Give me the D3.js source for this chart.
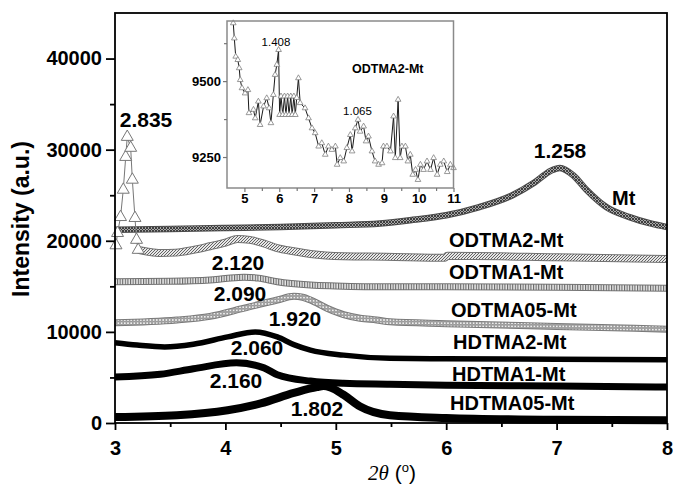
<!DOCTYPE html>
<html><head><meta charset="utf-8">
<script src="https://cdn.jsdelivr.net/npm/d3@7"></script>
<style>
body{margin:0;background:#fff;}
svg{display:block;}
text{font-family:"Liberation Sans",Arial,sans-serif;}
</style></head>
<body>
<svg id="c" width="673" height="486"></svg>
<script>
// ---------- data ----------
const xTicks = [3,4,5,6,7,8];
const yTicks = [0,10000,20000,30000,40000];
const insetXTicks = [5,6,7,8,9,10,11];
const insetYTicks = [9250,9500];

const mtX = [3.0,3.5,4.0,4.5,5.0,5.4,5.7,6.0,6.3,6.6,6.8,6.95,7.03,7.15,7.27,7.45,7.66,7.85,8.0];
const mtY = [21200,21300,21400,21500,21700,21900,22300,22800,23700,25000,26400,27700,28000,27200,25600,23700,22600,21900,21500];

const od2PeakX = [3.009,3.023,3.050,3.075,3.097,3.111,3.142,3.157,3.181,3.195,3.21];
const od2PeakY = [19500,20850,22600,25600,29200,31400,30200,26700,22500,20100,19000];
const od2X = [3.21,3.3,3.41,3.55,3.71,3.86,4.0,4.11,4.22,4.35,4.47,4.62,4.77,5.07,5.45,5.99,6.01,7.0,8.0];
const od2Y = [19000,18800,18650,18700,19000,19400,19800,20200,20100,19700,19200,18850,18550,18300,18250,18150,18350,18200,18000];

const od1X = [3.0,3.5,3.86,4.0,4.17,4.3,4.47,4.77,5.0,5.49,6.0,7.0,8.0];
const od1Y = [15500,15550,15700,15850,16000,15900,15500,15150,15050,14950,14950,14900,14800];

const od05X = [3.0,3.56,3.86,4.17,4.47,4.62,4.70,4.77,4.92,5.07,5.22,5.37,5.49,6.0,7.0,8.0];
const od05Y = [11000,11300,11700,12600,13500,13900,13800,13500,12600,11900,11500,11300,11100,10900,10600,10300];

const hd2X = [3.0,3.2,3.45,3.71,4.02,4.27,4.47,4.62,4.77,5.07,5.49,6.0,7.0,8.0];
const hd2Y = [8800,8550,8350,8650,9450,10000,9450,8600,8000,7450,7100,7050,7000,6950];

const hd1X = [3.0,3.41,3.71,4.1,4.35,4.47,4.77,5.07,5.49,6.0,7.0,8.0];
const hd1Y = [5050,5350,5950,6600,6050,5300,4600,4350,4250,4150,4050,3950];

const hd05X = [3.0,3.56,4.02,4.32,4.62,4.83,4.89,4.95,5.07,5.22,5.49,6.0,7.0,8.0];
const hd05Y = [650,850,1400,2150,3300,3950,4050,3900,3100,1800,850,550,350,300];

const insetX = [4.68,4.71,4.75,4.81,4.85,4.88,4.93,5.02,5.10,5.13,5.26,5.31,5.40,5.45,5.55,5.64,5.71,5.76,5.83,5.88,5.93,5.98,6.01,6.05,6.10,6.15,6.19,6.24,6.28,6.33,6.37,6.42,6.46,6.50,6.55,6.60,6.74,6.84,6.94,7.03,7.13,7.22,7.32,7.41,7.51,7.61,7.66,7.75,7.85,7.94,8.04,8.09,8.18,8.26,8.32,8.42,8.49,8.56,8.66,8.75,8.85,8.95,8.99,9.09,9.19,9.28,9.33,9.41,9.47,9.52,9.62,9.69,9.76,9.83,9.91,9.98,10.05,10.14,10.24,10.34,10.43,10.53,10.62,10.72,10.82,10.91,11.0];
const insetY = [9691,9641,9581,9570,9543,9504,9477,9460,9471,9395,9406,9378,9433,9356,9417,9444,9411,9362,9455,9521,9554,9603,9389,9450,9389,9450,9389,9450,9389,9450,9389,9450,9389,9445,9510,9428,9411,9378,9345,9329,9285,9296,9258,9285,9274,9285,9225,9247,9236,9280,9323,9269,9345,9373,9334,9351,9302,9318,9269,9236,9225,9230,9285,9285,9269,9384,9247,9439,9247,9285,9285,9236,9258,9192,9208,9175,9225,9208,9236,9208,9247,9192,9225,9236,9201,9225,9214];

// ---------- drawing ----------
const svg = d3.select('#c');
const x = d3.scaleLinear([3,8],[115,667]);
const y = d3.scaleLinear([0,45000],[423,13]);
const zip = (a,b)=>a.map((v,i)=>[v,b[i]]);

const defs = svg.append('defs');
function pat(id, w, h, bg, draw){
  const p = defs.append('pattern').attr('id',id).attr('patternUnits','userSpaceOnUse').attr('width',w).attr('height',h);
  p.append('rect').attr('width',w).attr('height',h).attr('fill',bg);
  draw(p);
}
pat('pDiag',3,3,'#e6e6e6',p=>p.append('path').attr('d','M0,3L3,0M-1,1L1,-1M2,4L4,2').attr('stroke','#636363').attr('stroke-width',1));
pat('pVert',2.6,4,'#e8e8e8',p=>p.append('rect').attr('x',0).attr('width',1.1).attr('height',4).attr('fill','#666'));
pat('pDots',3.2,3.2,'#eeeeee',p=>p.append('circle').attr('cx',1.6).attr('cy',1.6).attr('r',1.05).attr('fill','none').attr('stroke','#6a6a6a').attr('stroke-width',0.8));
pat('pMt',3,3,'#a8a8a8',p=>p.append('path').attr('d','M0,3L3,0M0,0L3,3').attr('stroke','#333').attr('stroke-width',0.9));

const line = d3.line().x(d=>x(d[0])).y(d=>y(d[1])).curve(d3.curveMonotoneX);

function band(data, w, edge, fill){
  svg.append('path').attr('d',line(data)).attr('fill','none').attr('stroke',edge).attr('stroke-width',w).attr('stroke-linejoin','round');
  if(fill) svg.append('path').attr('d',line(data)).attr('fill','none').attr('stroke',fill).attr('stroke-width',w-2).attr('stroke-linejoin','round');
}

band(zip(mtX,mtY),6.5,'#4a4a4a','url(#pMt)');
band(zip(od2X,od2Y),8,'#727272','url(#pDiag)');
band(zip(od1X,od1Y),7,'#727272','url(#pVert)');
band(zip(od05X,od05Y),7,'#7a7a7a','url(#pDots)');
band(zip(hd2X,hd2Y),5.5,'#000',null);
band(zip(hd1X,hd1Y),7,'#000',null);
band(zip(hd05X,hd05Y),8,'#000',null);

// ODTMA2 low-angle peak with discrete triangles
const pk = zip(od2PeakX,od2PeakY);
svg.append('path').attr('d',d3.line().x(d=>x(d[0])).y(d=>y(d[1]))(pk)).attr('fill','none').attr('stroke','#777').attr('stroke-width',1);
svg.selectAll('.tri').data(pk).join('path').attr('class','tri')
  .attr('transform',d=>`translate(${x(d[0])},${y(d[1])})`)
  .attr('d',d3.symbol(d3.symbolTriangle,62)()).attr('fill','#fff').attr('stroke','#777').attr('stroke-width',1);

// frame
svg.append('rect').attr('x',115).attr('y',13).attr('width',552).attr('height',410).attr('fill','none').attr('stroke','#000').attr('stroke-width',1.8);

// axes
const ax = svg.append('g').attr('transform','translate(0,423)')
  .call(d3.axisBottom(x).tickValues(xTicks).tickSize(7).tickPadding(11).tickFormat(d3.format('d')));
const axm = svg.append('g').attr('transform','translate(0,423)')
  .call(d3.axisBottom(x).tickValues([3.5,4.5,5.5,6.5,7.5]).tickSize(4).tickFormat(''));
const ay = svg.append('g').attr('transform','translate(115,0)')
  .call(d3.axisLeft(y).tickValues(yTicks).tickSize(9).tickPadding(4).tickFormat(d3.format('d')));
const aym = svg.append('g').attr('transform','translate(115,0)')
  .call(d3.axisLeft(y).tickValues([5000,15000,25000,35000]).tickSize(5).tickFormat(''));
[ax,axm,ay,aym].forEach(g=>{g.select('.domain').remove();g.selectAll('line').attr('stroke','#000').attr('stroke-width',1.8);});
[ax,ay].forEach(g=>g.selectAll('text').attr('font-size',20).attr('font-weight','bold').attr('fill','#000').style('font-family','"Liberation Sans",Arial,sans-serif'));

// axis titles
svg.append('text').attr('transform','translate(29,219) rotate(-90)').attr('text-anchor','middle')
  .attr('font-size',23).attr('font-weight','bold').text('Intensity (a.u.)');
const xt = svg.append('text').attr('x',392).attr('y',480).attr('text-anchor','middle').attr('font-size',21);
xt.append('tspan').attr('font-style','italic').style('font-family','"Liberation Serif",serif').text('2θ');
xt.append('tspan').text(' (');
xt.append('tspan').attr('font-size',13).attr('dy',-8).text('o');
xt.append('tspan').attr('dy',8).text(')');

// annotations
const ann = [
  ['2.835',146,127],['1.258',560,158],['2.120',238,270],['2.090',240,301],
  ['1.920',295,326],['2.060',257,355],['2.160',236,388],['1.802',317,416]
];
svg.selectAll('.ann').data(ann).join('text').attr('class','ann').attr('x',d=>d[1]).attr('y',d=>d[2])
  .attr('text-anchor','middle').attr('font-size',21).attr('font-weight','bold').text(d=>d[0]);
const names = [['Mt',612,205],['ODTMA2-Mt',449,247],['ODTMA1-Mt',449,279],['ODTMA05-Mt',451,317],
  ['HDTMA2-Mt',453,349],['HDTMA1-Mt',452,381],['HDTMA05-Mt',450,410]];
svg.selectAll('.nm').data(names).join('text').attr('class','nm').attr('x',d=>d[1]).attr('y',d=>d[2])
  .attr('font-size',20).attr('font-weight','bold').text(d=>d[0]);

// ---------- inset ----------
const xi = d3.scaleLinear([4.5,11],[227,453.5]);
const yi = d3.scaleLinear([9148,9698],[188,21]);
svg.append('rect').attr('x',227).attr('y',21).attr('width',226.5).attr('height',167).attr('fill','#fff');
const ins = zip(insetX,insetY);
const g = svg.append('g');
g.append('path').attr('d',d3.line().x(d=>xi(d[0])).y(d=>yi(d[1]))(ins)).attr('fill','none').attr('stroke','#1a1a1a').attr('stroke-width',1);
g.selectAll('path.it').data(ins).join('path').attr('class','it')
  .attr('transform',d=>`translate(${xi(d[0])},${yi(d[1])})`)
  .attr('d',d3.symbol(d3.symbolTriangle,14)()).attr('fill','#fff').attr('stroke','#808080').attr('stroke-width',0.8);
svg.append('rect').attr('x',227).attr('y',21).attr('width',226.5).attr('height',167).attr('fill','none').attr('stroke','#8a8a8a').attr('stroke-width',1.5);
const iax = svg.append('g').attr('transform','translate(0,188)')
  .call(d3.axisBottom(xi).tickValues(insetXTicks).tickSize(4).tickPadding(2).tickFormat(d3.format('d')));
const iaxm = svg.append('g').attr('transform','translate(0,188)')
  .call(d3.axisBottom(xi).tickValues([5.5,6.5,7.5,8.5,9.5,10.5]).tickSize(3).tickFormat(''));
const iay = svg.append('g').attr('transform','translate(227,0)')
  .call(d3.axisLeft(yi).tickValues(insetYTicks).tickSize(4).tickPadding(2).tickFormat(d3.format('d')));
const iaym = svg.append('g').attr('transform','translate(227,0)')
  .call(d3.axisLeft(yi).tickValues([9375,9625]).tickSize(3).tickFormat(''));
[iax,iaxm,iay,iaym].forEach(a=>{a.select('.domain').remove();a.selectAll('line').attr('stroke','#777').attr('stroke-width',1.2);});
[iax,iay].forEach(a=>a.selectAll('text').attr('font-size',13).attr('font-weight','bold').attr('fill','#000').style('font-family','"Liberation Sans",Arial,sans-serif'));
svg.append('text').attr('x',276).attr('y',46).attr('text-anchor','middle').attr('font-size',11.5).text('1.408');
svg.append('text').attr('x',357.5).attr('y',115).attr('text-anchor','middle').attr('font-size',11.5).text('1.065');
svg.append('text').attr('x',352).attr('y',73).attr('font-size',12.5).attr('font-weight','bold').text('ODTMA2-Mt');
</script>
</body></html>
